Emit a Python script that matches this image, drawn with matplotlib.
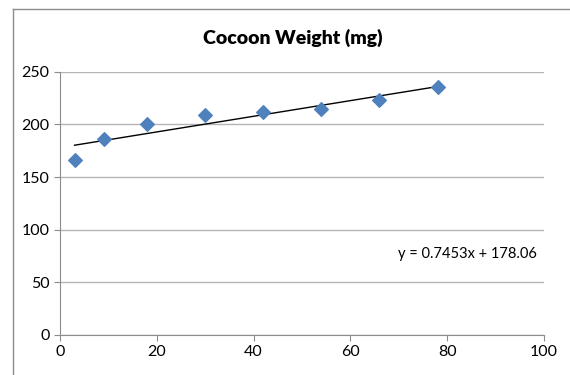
import numpy as np
import matplotlib.pyplot as plt
from matplotlib.lines import Line2D

x = [3, 9, 18, 30, 42, 54, 66, 78]
weight = [166.5, 186.5, 200, 208.5, 212, 215, 223, 235]
equation = 'y = 0.7453x + 178.06'

plt.rcParams['font.family'] = ['Lato', 'DejaVu Sans']

fig = plt.figure(figsize=(5.7, 3.75), dpi=100)
# outer chart frame: only top and left edges show in the crop
bx, by = 12.7 / 570, 1 - 9.3 / 375
fig.add_artist(Line2D([bx, bx], [0, by], transform=fig.transFigure,
                      color='#8c8c8c', linewidth=1.0))
fig.add_artist(Line2D([bx, 1], [by, by], transform=fig.transFigure,
                      color='#8c8c8c', linewidth=1.0))

ax = fig.add_axes([60 / 570, 40 / 375, 484 / 570, 263.3 / 375])

ax.scatter(x, weight, marker='D', s=48, color='#4F81BD', zorder=3)
m, b = np.polyfit(x, weight, 1)
xs = np.array([min(x), max(x)])
ax.plot(xs, m * xs + b, color='black', linewidth=1.0, zorder=2)

ax.set_xlim(0, 100)
ax.set_ylim(0, 250)
ax.set_xticks(range(0, 101, 20))
ax.set_yticks(range(0, 251, 50))
ax.yaxis.grid(True, color='#b4b4b4', linewidth=1.0)
ax.set_axisbelow(True)
for s in ['top', 'right']:
    ax.spines[s].set_visible(False)
for s in ['left', 'bottom']:
    ax.spines[s].set_color('#8c8c8c')
ax.tick_params(axis='both', colors='#8c8c8c', labelcolor='black',
               labelsize=11.5, length=4, direction='out')

ax.text(69.8, 77, equation, fontsize=10.5, va='center', ha='left')
fig.text(0.514, 0.898, 'Cocoon Weight (mg)', fontsize=14, fontweight='heavy',
         ha='center', va='center')

fig.savefig('out.png', dpi=100)
